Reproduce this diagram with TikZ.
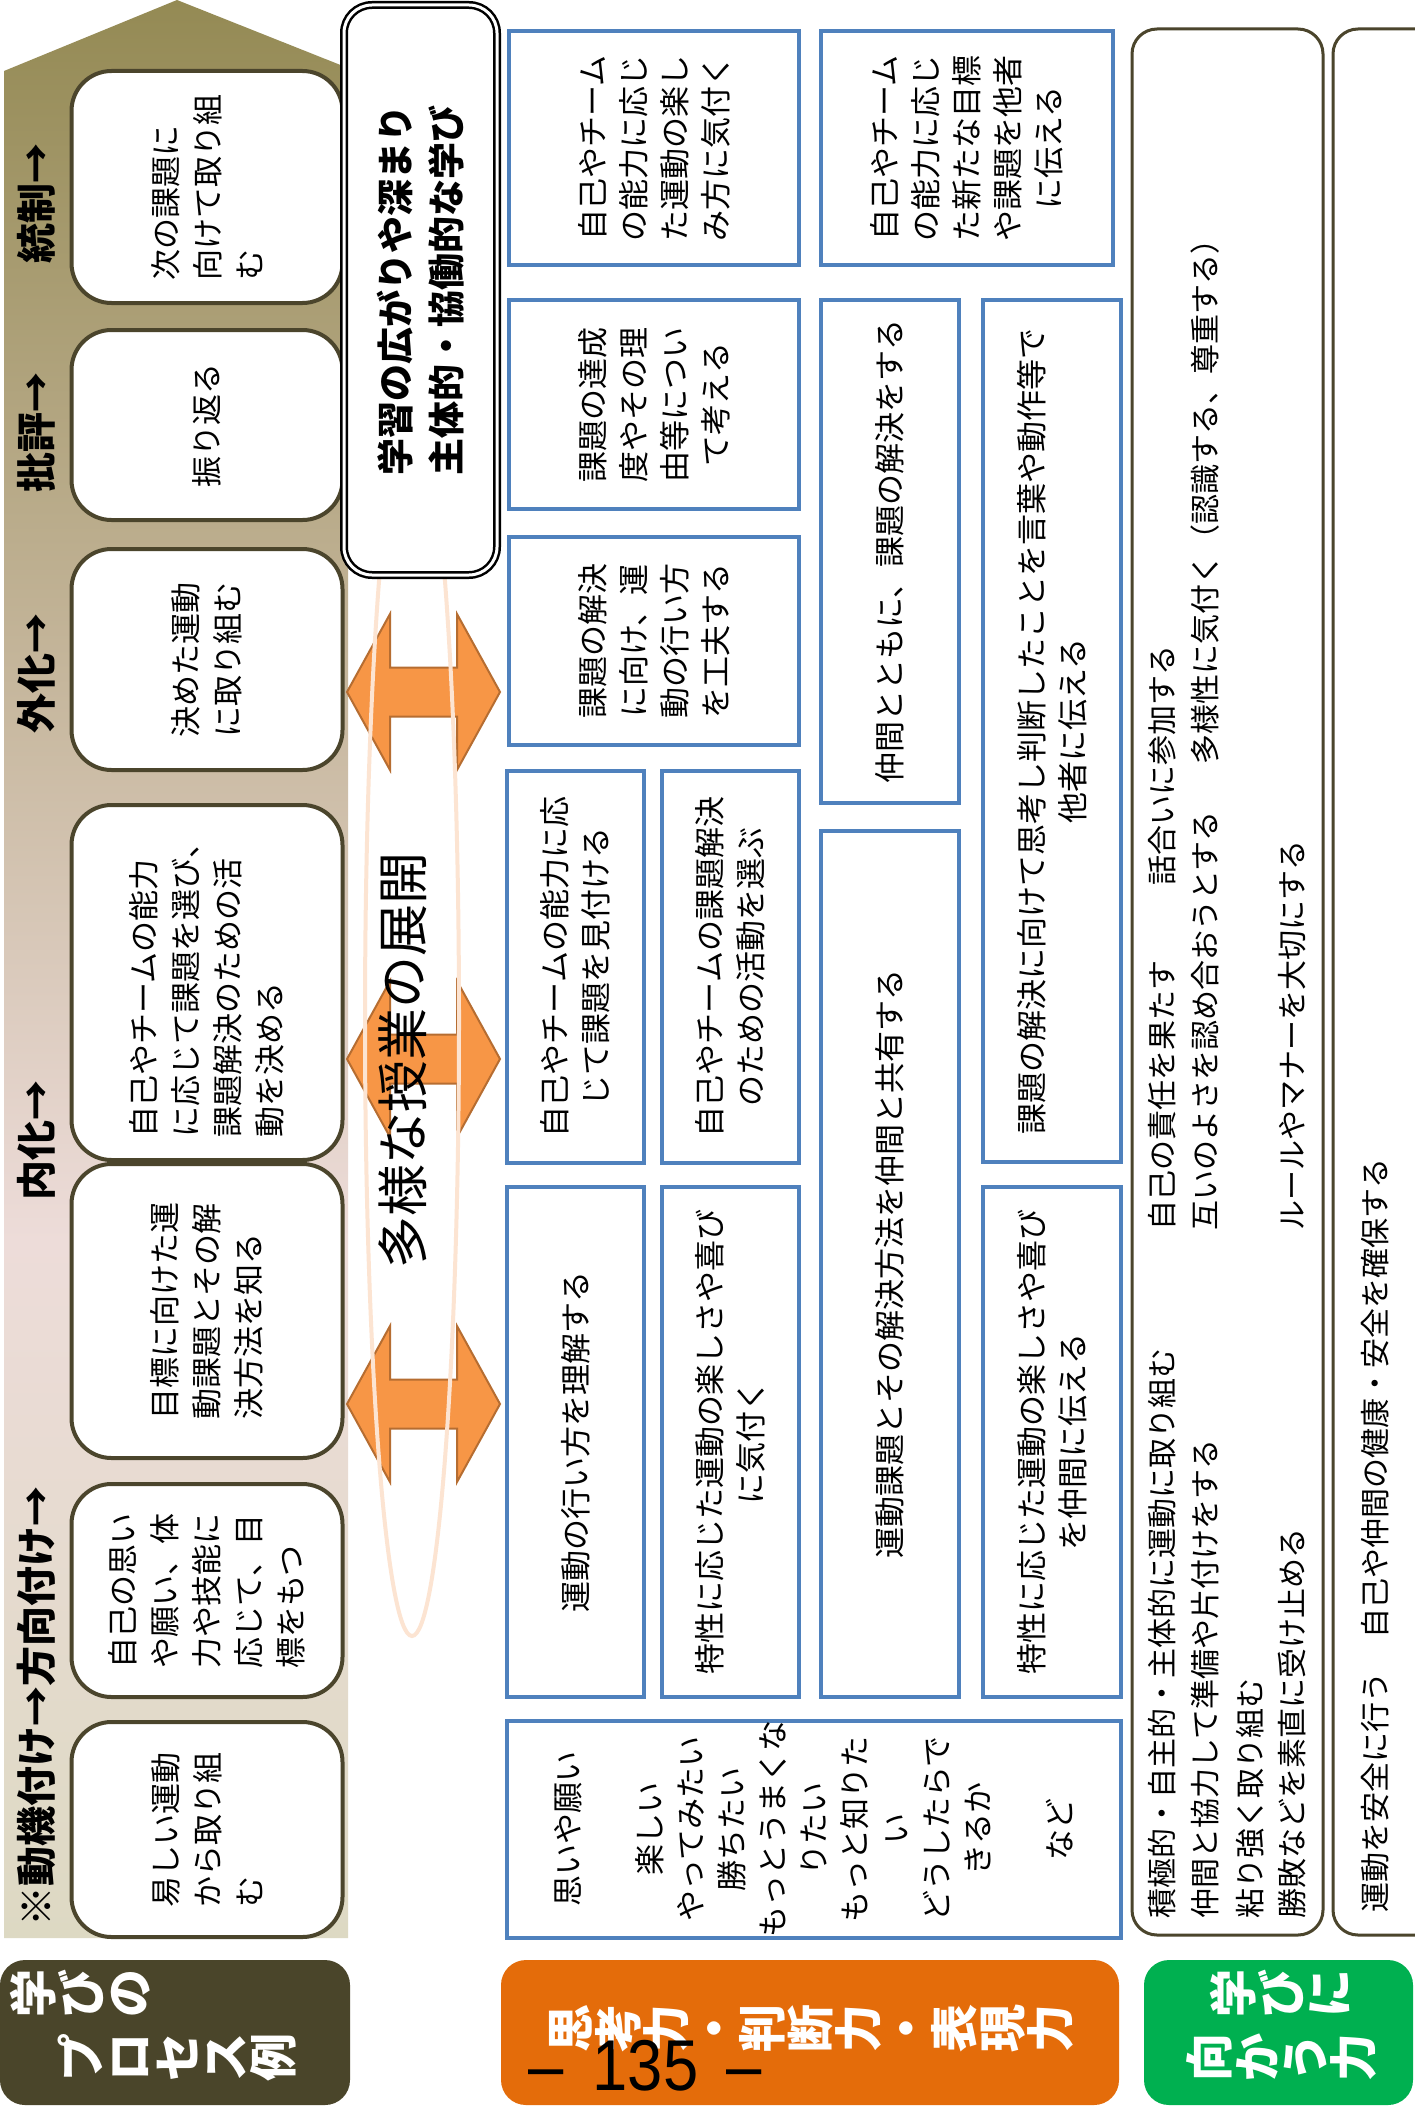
\documentclass[tikz,border=0pt]{standalone}
\usepackage{fontspec}
\usepackage{graphicx}
\setmainfont{Noto Sans CJK JP}
\newfontfamily\pagefont{Liberation Sans}
\usetikzlibrary{shapes,arrows,positioning}

\definecolor{procedge}{RGB}{75,69,44}
\definecolor{blueedge}{RGB}{79,129,189}
\definecolor{arrowfill}{RGB}{247,150,70}
\definecolor{arrowedge}{RGB}{182,109,49}
\definecolor{ellipseedge}{RGB}{252,228,210}
\definecolor{hdrdark}{RGB}{74,69,42}
\definecolor{hdrorange}{RGB}{228,108,10}
\definecolor{hdrgreen}{RGB}{0,176,80}
\definecolor{stripolive}{RGB}{148,138,84}
\definecolor{striptan}{RGB}{196,181,154}
\definecolor{strippink}{RGB}{237,220,217}
\definecolor{stripbeige}{RGB}{221,217,195}

\pgfdeclareverticalshading{stripshade}{100bp}{color(0bp)=(stripbeige); color(25bp)=(stripbeige); color(43bp)=(strippink); color(58bp)=(striptan); color(75bp)=(stripolive); color(100bp)=(stripolive)}

\makeatletter
\newcommand\rotch[1]{\rotatebox[origin=c]{90}{\makebox[1em]{\rule[-0.12em]{0pt}{1em}#1}}}
\newcommand\tatechars[1]{\@tfor\tatetok:=#1\do{\rotch{\tatetok}}}
\makeatother

\begin{document}
\begin{tikzpicture}[x=1pt, y=-1pt,
  procbox/.style={draw=procedge, line width=4pt, fill=white, rounded corners=40pt, rotate=90, align=left, inner sep=0pt, font=\fontsize{31}{42}\selectfont},
  bluebox/.style={draw=blueedge, line width=4pt, fill=white, rotate=90, align=center, inner sep=0pt, font=\fontsize{31}{41}\selectfont},
  steplabel/.style={rotate=90, inner sep=0pt, font=\bfseries\fontsize{40}{40}\selectfont},
  dblarrow/.style={fill=arrowfill, draw=arrowedge, line width=2pt, line join=miter},
  attbox/.style={draw=procedge, line width=3pt, fill=white, rounded corners=25pt},
  atttext/.style={rotate=90, anchor=west, inner sep=0pt, font=\fontsize{30}{30}\selectfont},
  hdrbox/.style={rounded corners=25pt, inner sep=0pt},
  hdrtext/.style={text=white, align=left, inner sep=0pt, font=\bfseries\fontsize{48}{64}\selectfont}]
\useasboundingbox (0,0) rectangle (1415,2111);
\fill[white] (0,0) rectangle (1415,2111);

% process strip
\shade[shading=stripshade] (4,71) -- (177,0) -- (348,68) -- (348,1938) -- (4,1938) -- cycle;

\node[steplabel] (lblmotiv) at (36,1706) {※動機付け→方向付け→};
\node[steplabel] (lblinner) at (36,1140) {内化→};
\node[steplabel] (lblouter) at (36,673) {外化→};
\node[steplabel] (lblreview) at (36,432) {批評→};
\node[steplabel] (lblcontrol) at (36,203) {統制→};

\node[procbox, minimum width=232pt, minimum height=271pt] (proc1) at (207,187) {次の課題に\\向けて取り組\\む};
\node[procbox, minimum width=190pt, minimum height=271pt] (proc2) at (207,425) {振り返る};
\node[procbox, minimum width=221pt, minimum height=271pt] (proc3) at (207,659.5) {決めた運動\\に取り組む};
\node[procbox, minimum width=355pt, minimum height=271pt] (proc4) at (207,982.5) {自己やチームの能力\\に応じて課題を選び、\\課題解決のための活\\動を決める};
\node[procbox, minimum width=294pt, minimum height=271pt] (proc5) at (207,1311) {目標に向けた運\\動課題とその解\\決方法を知る};
\node[procbox, minimum width=213pt, minimum height=271pt] (proc6) at (207,1590.5) {自己の思い\\や願い、体\\力や技能に\\応じて、目\\標をもつ};
\node[procbox, minimum width=215pt, minimum height=271pt] (proc7) at (207,1829.5) {易しい運動\\から取り組\\む};

% various lessons
\foreach \cy in {692,1059,1404}
  \draw[dblarrow] (347,\cy) -- (390,\cy-78) -- (390,\cy-24.5) -- (457,\cy-24.5) -- (457,\cy-78)
    -- (500,\cy) -- (457,\cy+78) -- (457,\cy+24.5) -- (390,\cy+24.5) -- (390,\cy+78) -- cycle;
\draw[ellipseedge, line width=4pt] (412,1020) ellipse [x radius=47, y radius=616];
\node[font=\fontsize{52}{52}\selectfont, rotate=90, inner sep=0pt] (lessons) at (403,1060) {多様な授業の展開};

\node[draw=black, line width=2.5pt, double=white, double distance=3pt, fill=white, rounded corners=28pt, rotate=90,
  minimum width=570pt, minimum height=153pt, align=center, font=\bfseries\fontsize{37}{51}\selectfont] (goal) at (420.5,290)
  {学習の広がりや深まり\\主体的・協働的な学び};

% thinking, judgement, expression
\node[bluebox, minimum width=234pt, minimum height=290pt] (thinkA1) at (654,148) {自己やチーム\\の能力に応じ\\た運動の楽し\\み方に気付く};
\node[bluebox, minimum width=234pt, minimum height=292pt] (thinkA2) at (967,148) {自己やチーム\\の能力に応じ\\た新たな目標\\や課題を他者\\に伝える};
\node[bluebox, minimum width=209pt, minimum height=290pt] (thinkB1) at (654,404.5) {課題の達成\\度やその理\\由等につい\\て考える};
\node[bluebox, minimum width=503pt, minimum height=138pt] (thinkB2) at (890,551.5) {仲間とともに、課題の解決をする};
\node[bluebox, minimum width=862pt, minimum height=138pt] (thinkB3) at (1052,731) {課題の解決に向けて思考し判断したことを言葉や動作等で\\他者に伝える};
\node[bluebox, minimum width=208pt, minimum height=290pt] (thinkC1) at (654,641) {課題の解決\\に向け、運\\動の行い方\\を工夫する};
\node[bluebox, minimum width=392pt, minimum height=137pt] (thinkD1) at (575.5,967) {自己やチームの能力に応\\じて課題を見付ける};
\node[bluebox, minimum width=392pt, minimum height=137pt] (thinkD2) at (730.5,967) {自己やチームの課題解決\\のための活動を選ぶ};
\node[bluebox, minimum width=510pt, minimum height=137pt] (thinkE1) at (575.5,1442) {運動の行い方を理解する};
\node[bluebox, minimum width=510pt, minimum height=137pt] (thinkE2) at (730.5,1442) {特性に応じた運動の楽しさや喜び\\に気付く};
\node[bluebox, minimum width=866pt, minimum height=138pt] (thinkE3) at (890,1264) {運動課題とその解決方法を仲間と共有する};
\node[bluebox, minimum width=510pt, minimum height=138pt] (thinkE4) at (1052,1442) {特性に応じた運動の楽しさや喜び\\を仲間に伝える};
\node[bluebox, minimum width=214pt, minimum height=614pt] (thinkF) at (814,1829)
  {思いや願い\\\mbox{}\\楽しい\\やってみたい\\勝ちたい\\もっとうまくな\\りたい\\もっと知りた\\い\\どうしたらで\\きるか\\\mbox{}\\など};

% attitude
\node[attbox, minimum width=191pt, minimum height=1906pt] (att1) at (1227.5,982) {};
\node[attbox, minimum width=207pt, minimum height=1906pt] (att2) at (1436.5,982) {};
\node[atttext] (att1a) at (1162,1919) {積極的・自主的・主体的に運動に取り組む};
\node[atttext] (att1b) at (1162,1231) {自己の責任を果たす};
\node[atttext] (att1c) at (1162,886) {話合いに参加する};
\node[atttext] (att2a) at (1205,1919) {仲間と協力して準備や片付けをする};
\node[atttext] (att2b) at (1205,1231) {互いのよさを認め合おうとする};
\node[atttext] (att2c) at (1205,765) {多様性に気付く（認識する、尊重する）};
\node[atttext] (att3a) at (1250,1919) {粘り強く取り組む};
\node[atttext] (att4a) at (1292,1919) {勝敗などを素直に受け止める};
\node[atttext] (att4b) at (1292,1231) {ルールやマナーを大切にする};
\node[atttext] (safe1) at (1375,1913) {運動を安全に行う};
\node[atttext] (safe2) at (1375,1639) {自己や仲間の健康・安全を確保する};

% headers
\node[hdrbox, fill=hdrdark, minimum width=350pt, minimum height=145pt] (hdrproc) at (175,2032.5) {};
\node[hdrbox, fill=hdrorange, minimum width=618pt, minimum height=145pt] (hdrthink) at (810,2032.5) {};
\node[hdrbox, fill=hdrgreen, minimum width=269pt, minimum height=145pt] (hdratt) at (1278.5,2032.5) {};
\node[hdrtext, anchor=west] (hdrproctext) at (9,2025) {\tatechars{学びの}\\\tatechars{　プロセス例}};
\node[hdrtext] (hdrthinktext) at (810,2028) {\tatechars{思考力・判断力・表現力}};
\node[hdrtext, align=center] (hdratttext) at (1281,2025) {\tatechars{学びに}\\\tatechars{向かう力}};

\node[font=\pagefont\fontsize{72}{72}\selectfont, xscale=0.88, inner sep=0pt] (pagenum) at (645,2066) {–\hspace{33pt}135\hspace{32pt}–};
\end{tikzpicture}
\end{document}
